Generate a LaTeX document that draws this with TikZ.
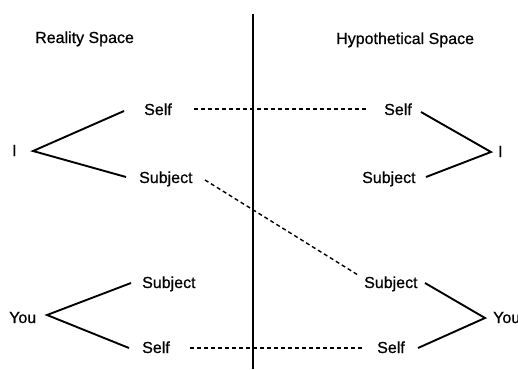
\documentclass[tikz,border=0pt]{standalone}
\usepackage{fontspec}
\setmainfont{Liberation Sans}[BoldFont={Liberation Sans},BoldFeatures={FakeBold=0.6}]
\begin{document}
\begin{tikzpicture}[x=1pt,y=-1pt,
  lbl/.style={anchor=base west,inner sep=0pt,font=\fontsize{16}{19}\bfseries},
  hdr/.style={lbl},
  branch/.style={line width=1.9pt},
  link/.style={line width=1.4pt,dash pattern=on 4pt off 3pt},
  divider/.style={line width=1.6pt}]
\useasboundingbox[fill=white] (0,0) rectangle (518,369);
% headers
\node[hdr] (hR) at (35,43) {Reality Space};
\node[hdr] (hH) at (336,44) {Hypothetical Space};
% divider
\coordinate (dTop) at (253,14);
\coordinate (dBot) at (253,369);
\draw[divider] (dTop) -- (dBot);
% left I group
\node[lbl] (IL) at (12,156) {I};
\node[lbl] (selfL) at (144,115) {Self};
\node[lbl] (subjL) at (139,183) {Subject};
% right I group
\node[lbl] (selfR) at (384,115) {Self};
\node[lbl] (subjR) at (362,183) {Subject};
\node[lbl] (IR) at (498,157) {I};
% left You group
\node[lbl] (youL) at (9,323) {You};
\node[lbl] (subjLB) at (142,288) {Subject};
\node[lbl] (selfLB) at (142,353) {Self};
% right You group
\node[lbl] (subjRB) at (364,288) {Subject};
\node[lbl] (selfRB) at (377,353) {Self};
\node[lbl] (youR) at (493,323) {You};
% branch points
\coordinate (aIL) at (33,151);
\coordinate (eSelfL) at (124,111);
\coordinate (eSubjL) at (126,177);
\coordinate (aIR) at (491,152);
\coordinate (eSelfR) at (421,112);
\coordinate (eSubjR) at (426,177);
\coordinate (aYouL) at (47,315);
\coordinate (eSubjLB) at (131,283);
\coordinate (eSelfLB) at (129,348);
\coordinate (aYouR) at (485,318);
\coordinate (eSubjRB) at (425,283);
\coordinate (eSelfRB) at (418,348);
\draw[branch] (eSelfL) -- (aIL) -- (eSubjL);
\draw[branch] (eSelfR) -- (aIR) -- (eSubjR);
\draw[branch] (eSubjLB) -- (aYouL) -- (eSelfLB);
\draw[branch] (eSubjRB) -- (aYouR) -- (eSelfRB);
% dashed links
\coordinate (l1a) at (194,109);
\coordinate (l1b) at (368,109);
\coordinate (l2a) at (205,180);
\coordinate (l2b) at (358,275);
\coordinate (l3a) at (190,348);
\coordinate (l3b) at (363,348);
\draw[link] (l1a) -- (l1b);
\draw[link] (l2a) -- (l2b);
\draw[link] (l3a) -- (l3b);
\end{tikzpicture}
\end{document}
